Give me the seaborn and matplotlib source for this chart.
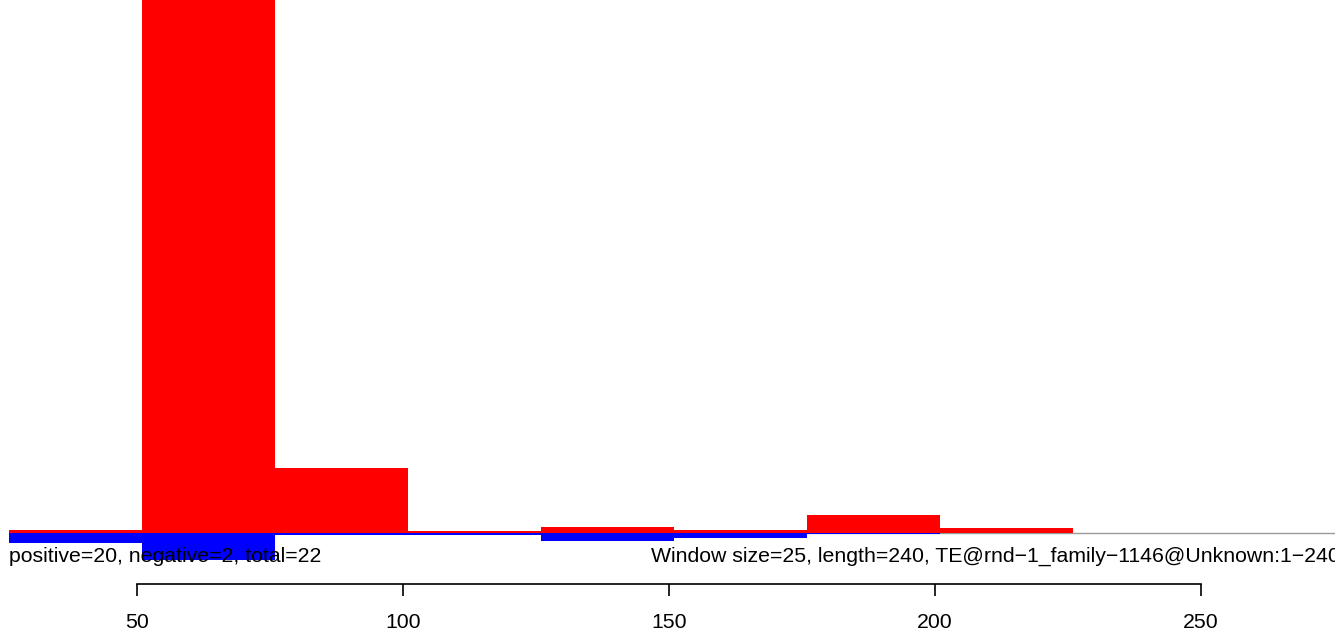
import matplotlib
matplotlib.use('Agg')
import matplotlib.pyplot as plt
import seaborn as sns

# ---- data ----
window_starts = [26, 51, 76, 101, 126, 151, 176, 201]
window_size = 25
positive_cov = [0.47, 100, 12.2, 0.38, 1.13, 0.47, 3.38, 0.94]
negative_cov = [1.88, 5.07, 0.38, 0.38, 1.5, 0.94, 0.19, 0.0]
x_ticks = [50, 100, 150, 200, 250]
x_tick_labels = ["50", "100", "150", "200", "250"]
left_label = "positive=20, negative=2, total=22"
right_label = "Window size=25, length=240, TE@rnd\u22121_family\u22121146@Unknown:1\u2212240"

sns.set_theme(style='white')
plt.rcParams['font.family'] = ['Liberation Sans', 'DejaVu Sans']

XMIN, XMAX = 24.25, 275.19
YMIN, YMAX = -18.4, 100
FS = 15.3

fig = plt.figure(figsize=(13.35, 6.31), dpi=100)
fig.patch.set_facecolor('white')
ax = fig.add_axes([0, 0, 1, 1])

edges = window_starts + [window_starts[-1] + window_size]

ax.axhline(0, xmin=(window_starts[0] - XMIN) / (XMAX - XMIN), xmax=1,
           color='#9a9a9a', lw=1.0, zorder=0)

sns.histplot(x=window_starts, weights=positive_cov, bins=edges,
             color='#ff0000', alpha=1, linewidth=0, ax=ax)
sns.histplot(x=window_starts, weights=[-v for v in negative_cov], bins=edges,
             color='#0000ff', alpha=1, linewidth=0, ax=ax)

ax.set_xlim(XMIN, XMAX)
ax.set_ylim(YMIN, YMAX)
ax.axis('off')

ax.text(window_starts[0], -5.4, left_label, ha='left', va='baseline',
        fontsize=FS, color='black')
ax.text(276.0, -5.4, right_label, ha='right', va='baseline',
        fontsize=FS, color='black')

# bottom axis
ax2 = fig.add_axes([0, 47 / 631, 1, 0.001])
ax2.patch.set_alpha(0)
ax2.set_xlim(XMIN, XMAX)
ax2.set_yticks([])
for s in ['left', 'top', 'right']:
    ax2.spines[s].set_visible(False)
ax2.spines['bottom'].set_bounds(x_ticks[0], x_ticks[-1])
ax2.spines['bottom'].set_color('black')
ax2.spines['bottom'].set_linewidth(1.2)
ax2.set_xticks(x_ticks)
ax2.set_xticklabels(x_tick_labels)
ax2.tick_params(axis='x', direction='out', length=8.7, width=1.2,
                pad=12.5, labelsize=FS, colors='black', bottom=True)

fig.savefig('out.png', dpi=100)
